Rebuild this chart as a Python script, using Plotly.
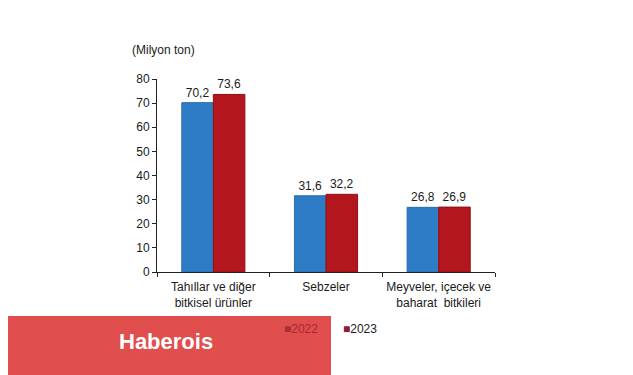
import plotly.graph_objects as go

categories = ["Tahıllar ve diğer<br>bitkisel ürünler", "Sebzeler", "Meyveler, içecek ve<br>baharat  bitkileri"]
values_2022 = [70.2, 31.6, 26.8]
values_2023 = [73.6, 32.2, 26.9]
labels_2022 = ["70,2", "31,6", "26,8"]
labels_2023 = ["73,6", "32,2", "26,9"]
series_names = ["2022", "2023"]

O = 8  # page body margin
W, H = 625, 367
L, T = 149, 71
pw, ph = 338, 193
R, B = W - L - pw, H - T - ph

def px(x):
    return (x - O - L) / pw

def py(y):
    return (H - B - (y - O)) / ph

FAM = "Liberation Sans, Arial, sans-serif"
font = dict(family=FAM, size=12, color="#1a1a1a")

fig = go.Figure()
fig.add_trace(go.Bar(
    x=categories, y=values_2022, name=series_names[0],
    marker=dict(color="#2E7CC6", line=dict(color="#2A6CAE", width=1)),
    text=labels_2022, textposition="outside", textfont=font, cliponaxis=False,
))
fig.add_trace(go.Bar(
    x=categories, y=values_2023, name=series_names[1],
    marker=dict(color="#B3161C", line=dict(color="#8E1015", width=1)),
    text=labels_2023, textposition="outside", textfont=font, cliponaxis=False,
))

legend_colors = [("#A8303C", "#A82A34"), ("#86203C", "#1a1a1a")]
legend_ann = []
for name, xpos, (mc, tc) in zip(series_names, [282, 341], legend_colors):
    legend_ann.append(dict(
        text=f"<span style='color:{mc};font-size:12px'>■</span>" + name,
        xref="paper", yref="paper", x=px(xpos), y=py(329),
        xanchor="left", yanchor="middle", showarrow=False,
        font=dict(family=FAM, size=12, color=tc)))

fig.update_layout(
    width=W, height=H,
    margin=dict(l=L, r=R, t=T, b=B, pad=0, autoexpand=False),
    paper_bgcolor="white", plot_bgcolor="white",
    font=font,
    barmode="group", bargap=0.44, bargroupgap=0,
    showlegend=False,
    xaxis=dict(showline=True, linecolor="#222", linewidth=1, ticks="outside", ticklen=4,
               tickcolor="#222", tickson="boundaries", showgrid=False, tickfont=font,
               tickangle=0, automargin=False, ticklabelstandoff=4),
    yaxis=dict(range=[0, 80], dtick=10, showline=True, linecolor="#222", linewidth=1,
               ticks="outside", ticklen=4, tickcolor="#222", showgrid=False, zeroline=False,
               tickfont=font, automargin=False),
    shapes=[dict(type="rect", xref="paper", yref="paper",
                 x0=px(0), x1=px(331), y0=py(376), y1=py(316),
                 fillcolor="rgb(224,78,78)", line=dict(width=0), layer="above")],
    annotations=legend_ann + [
        dict(text="(Milyon ton)", xref="paper", yref="paper", x=px(130), y=py(50),
             xanchor="left", yanchor="middle", showarrow=False, font=font),
        dict(text="<b>Haberois</b>", xref="paper", yref="paper", x=px(166), y=py(341),
             xanchor="center", yanchor="middle", showarrow=False,
             font=dict(family=FAM, size=22, color="white")),
    ],
)

fig.write_html("out.html")
